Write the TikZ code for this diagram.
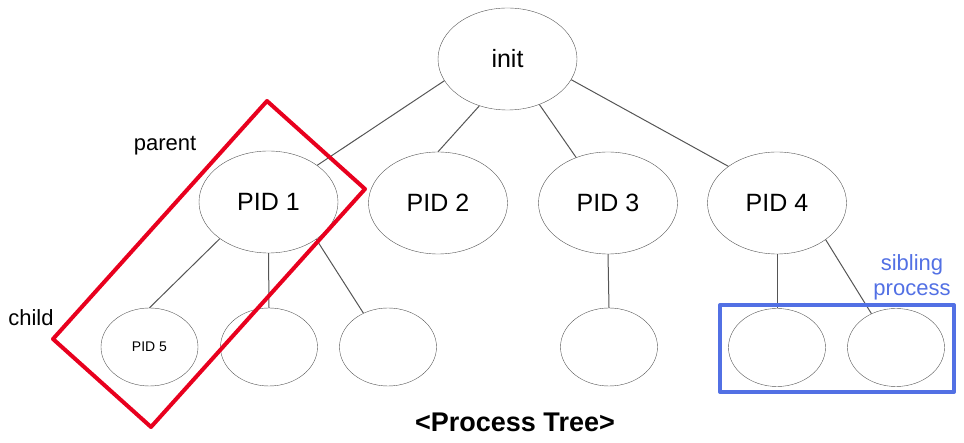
\documentclass[tikz,border=0pt]{standalone}
\usepackage{fontspec}
\setmainfont{Liberation Sans}
\usepackage{xcolor}
\usetikzlibrary{shapes.geometric}
\definecolor{treegray}{RGB}{85,85,85}
\definecolor{parentred}{RGB}{232,0,30}
\definecolor{siblingblue}{RGB}{82,112,228}

\begin{document}
\begin{tikzpicture}[
    x=1pt, y=-1pt,
    procnode/.style={draw=treegray, ellipse, minimum width=139pt, minimum height=102pt, inner sep=0pt, font=\fontsize{25}{30}\selectfont},
    childnode/.style={draw=treegray, ellipse, minimum width=97pt, minimum height=78pt, inner sep=0pt, font=\fontsize{14}{17}\selectfont},
    treeedge/.style={draw=treegray, line width=1pt},
    notelabel/.style={font=\fontsize{22}{25}\selectfont, align=center},
    markbox/.style={line width=4pt, line join=round}
]
  \useasboundingbox (0,0) rectangle (964,443);

  % Nodes
  \node (init) [procnode] at (507.5,59) {init};
  \node (pid1) [procnode] at (268.5,202) {PID 1};
  \node (pid2) [procnode] at (438,203) {PID 2};
  \node (pid3) [procnode] at (608,203) {PID 3};
  \node (pid4) [procnode] at (777,203) {PID 4};

  \node (pid5) [childnode] at (149.5,347) {PID 5};
  \node (c12) [childnode] at (269,347) {};
  \node (c13) [childnode] at (388,347) {};
  \node (c31) [childnode] at (609,347) {};
  \node (c41) [childnode] at (777,347.5) {};
  \node (c42) [childnode] at (896,347.5) {};

  % Labels
  \node (parent) [notelabel] at (165,146) {parent};
  \node (child) [notelabel] at (31,318) {child};
  \node (sibling) [notelabel, text=siblingblue] at (912,277) {sibling\\process};
  \node (title) [font=\fontsize{27}{30}\selectfont\bfseries] at (515,422) {<Process Tree>};

  % Edges
  \draw [treeedge] (init.199) -- (pid1.37);
  \draw [treeedge] (init.239) -- (pid2.north);
  \draw [treeedge] (init.305) -- (pid3.125);
  \draw [treeedge] (init.342) -- (pid4.143);
  \draw [treeedge] (pid1.217) -- (pid5.north);
  \draw [treeedge] (pid1.south) -- (c12.north);
  \draw [treeedge] (pid1.322) -- (c13.126);
  \draw [treeedge] (pid3.south) -- (c31.north);
  \draw [treeedge] (pid4.south) -- (c41.north);
  \draw [treeedge] (pid4.323) -- (c42.126);

  % Boxes
  \draw [markbox, parentred] (267,101) -- (365,189) -- (151,427) -- (53,339) -- cycle;
  \draw [markbox, siblingblue] (720,305) rectangle (954,392);
\end{tikzpicture}
\end{document}
